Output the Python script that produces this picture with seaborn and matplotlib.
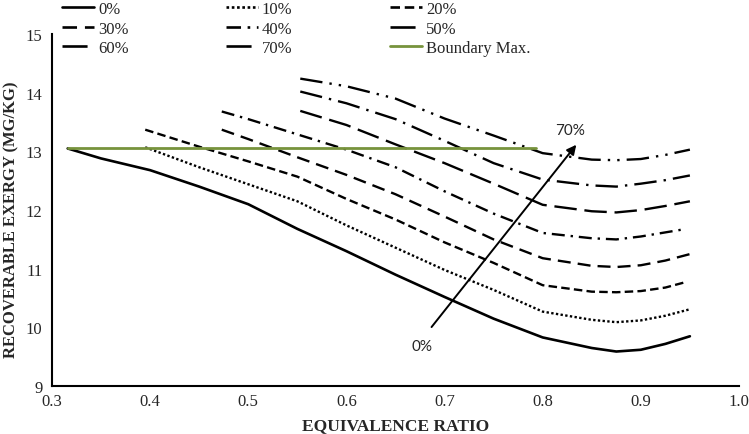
import matplotlib
matplotlib.use("Agg")
import matplotlib.pyplot as plt
from matplotlib.lines import Line2D
import seaborn as sns
import pandas as pd

# values
x_0 = [0.316, 0.35, 0.4, 0.45, 0.5, 0.55, 0.6, 0.65, 0.7, 0.75, 0.8, 0.85, 0.875, 0.9, 0.925, 0.95]
y_0 = [13.05, 12.88, 12.68, 12.40, 12.10, 11.68, 11.30, 10.90, 10.52, 10.15, 9.83, 9.65, 9.59, 9.62, 9.72, 9.85]

x_10 = [0.395, 0.45, 0.5, 0.55, 0.6, 0.65, 0.7, 0.75, 0.8, 0.85, 0.875, 0.9, 0.925, 0.95]
y_10 = [13.07, 12.73, 12.44, 12.15, 11.74, 11.36, 10.98, 10.64, 10.27, 10.13, 10.09, 10.12, 10.20, 10.31]

x_20 = [0.395, 0.45, 0.5, 0.55, 0.6, 0.65, 0.7, 0.75, 0.8, 0.85, 0.875, 0.9, 0.925, 0.945]
y_20 = [13.37, 13.08, 12.83, 12.57, 12.19, 11.84, 11.45, 11.10, 10.72, 10.61, 10.60, 10.62, 10.68, 10.77]

x_30 = [0.473, 0.5, 0.55, 0.6, 0.65, 0.7, 0.75, 0.8, 0.85, 0.875, 0.9, 0.925, 0.95]
y_30 = [13.37, 13.21, 12.90, 12.60, 12.27, 11.89, 11.50, 11.18, 11.05, 11.03, 11.06, 11.14, 11.25]

x_40 = [0.473, 0.5, 0.55, 0.6, 0.65, 0.7, 0.75, 0.8, 0.85, 0.875, 0.9, 0.925, 0.943]
y_40 = [13.68, 13.55, 13.29, 13.03, 12.73, 12.32, 11.94, 11.61, 11.52, 11.50, 11.55, 11.62, 11.67]

x_50 = [0.553, 0.6, 0.65, 0.7, 0.75, 0.8, 0.85, 0.875, 0.9, 0.925, 0.95]
y_50 = [13.69, 13.45, 13.12, 12.80, 12.45, 12.09, 11.98, 11.96, 12.00, 12.07, 12.15]

x_60 = [0.553, 0.6, 0.65, 0.7, 0.75, 0.8, 0.85, 0.875, 0.9, 0.925, 0.95]
y_60 = [14.02, 13.82, 13.55, 13.18, 12.80, 12.52, 12.42, 12.40, 12.45, 12.51, 12.59]

x_70 = [0.553, 0.6, 0.65, 0.7, 0.75, 0.8, 0.85, 0.875, 0.9, 0.925, 0.95]
y_70 = [14.24, 14.11, 13.90, 13.56, 13.27, 12.97, 12.86, 12.85, 12.87, 12.94, 13.03]

boundary_x = [0.316, 0.793]
boundary_y = [13.05, 13.05]

labels = ["0%", "10%", "20%", "30%", "40%", "50%", "60%", "70%"]
xs = [x_0, x_10, x_20, x_30, x_40, x_50, x_60, x_70]
ys = [y_0, y_10, y_20, y_30, y_40, y_50, y_60, y_70]

arrow_start = (0.685, 9.97)
arrow_end = (0.836, 13.15)

# line styles (in units of line width)
dash_styles = {
    "0%": "",
    "10%": (1, 1),
    "20%": (3.6, 1.8),
    "30%": (5.5, 3),
    "40%": (5.5, 2.5, 1, 2.5),
    "50%": (9.5, 3.3),
    "60%": (9.5, 3, 1, 3),
    "70%": (9.5, 3, 1, 3, 1, 3),
}
green = "#77933C"

df = pd.concat(
    [pd.DataFrame({"phi": x, "exergy": y, "series": lab}) for lab, x, y in zip(labels, xs, ys)],
    ignore_index=True,
)

sns.set_style("white")
plt.rcParams["font.family"] = ["Liberation Serif", "DejaVu Serif"]

fig = plt.figure(figsize=(7.49, 4.35), dpi=100)
ax = fig.add_axes([0.0694, 0.110, 0.9172, 0.8095])

sns.lineplot(data=df, x="phi", y="exergy", style="series", dashes=dash_styles,
             style_order=labels, color="black", linewidth=1.7, legend=False, ax=ax,
             estimator=None, sort=False)
# the 0% curve is slightly heavier
ax.get_lines()[0].set_linewidth(1.9)

sns.lineplot(x=boundary_x, y=boundary_y, color=green, linewidth=2.0, ax=ax, zorder=5)

ax.annotate("", xy=arrow_end, xytext=arrow_start,
            arrowprops=dict(arrowstyle="-|>", color="black", lw=1.4, mutation_scale=14))
ax.text(0.677, 9.68, "0%", family="Lato", fontsize=11, ha="center", va="center")
ax.text(0.828, 13.37, "70%", family="Lato", fontsize=11, ha="center", va="center")

ax.set_xlim(0.3, 1.0)
ax.set_ylim(9, 15)
ax.set_xticks([0.3, 0.4, 0.5, 0.6, 0.7, 0.8, 0.9, 1.0])
ax.set_xticklabels(["0.3", "0.4", "0.5", "0.6", "0.7", "0.8", "0.9", "1.0"])
ax.set_yticks([9, 10, 11, 12, 13, 14, 15])
ax.tick_params(axis="both", length=0, labelsize=12)
ax.tick_params(axis="x", pad=5)
ax.tick_params(axis="y", pad=7)

for side in ["top", "right"]:
    ax.spines[side].set_visible(False)
for side in ["left", "bottom"]:
    ax.spines[side].set_color("black")
    ax.spines[side].set_linewidth(1.5)

ax.set_xlabel("EQUIVALENCE RATIO", fontsize=12.5, fontweight="bold", labelpad=6)
ax.set_ylabel("RECOVERABLE EXERGY (MG/KG)", fontsize=12, fontweight="bold")
ax.yaxis.set_label_coords(-0.048, 0.475)

# legend, laid out row by row like the original
handles = {}
for lab in labels:
    d = dash_styles[lab]
    kw = dict(color="black", linewidth=1.9)
    if d:
        kw["dashes"] = d
    handles[lab] = Line2D([], [], **kw)
handles["Boundary Max."] = Line2D([], [], color=green, linewidth=2.0)
order = ["0%", "30%", "60%", "10%", "40%", "70%", "20%", "50%", "Boundary Max."]
fig.legend([handles[k] for k in order], order, loc="upper left",
           bbox_to_anchor=(0.083, 0.995), ncol=3, frameon=False, fontsize=12,
           handlelength=1.9, handletextpad=0.25, columnspacing=5.85,
           labelspacing=0.2, borderpad=0, borderaxespad=0)

fig.savefig("out.png", dpi=100)
